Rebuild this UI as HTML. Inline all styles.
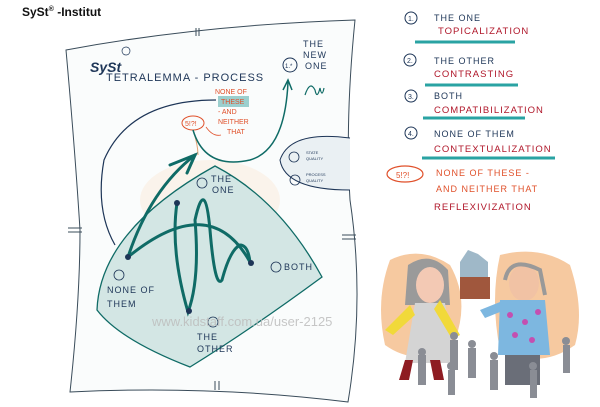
<!DOCTYPE html>
<html><head><meta charset="utf-8"><style>
html,body{margin:0;padding:0;background:#fff;width:600px;height:407px;overflow:hidden}
svg{display:block}
text{font-family:"Liberation Sans",sans-serif}
.n{fill:#1d3557;font-size:9px;letter-spacing:1px}
.r{fill:#b0172a;font-size:9.5px;letter-spacing:1px}
.o{fill:#e0502a;font-size:7px}
</style></head><body>
<svg width="600" height="407" viewBox="0 0 600 407">
<text x="22" y="16" font-size="12" font-weight="bold" fill="#111">SySt<tspan font-size="7" dy="-5">®</tspan><tspan dy="5"> -Institut</tspan></text>
<!-- paper -->
<path d="M66,50 Q200,25 355,20 Q345,120 350,200 Q365,300 348,402 Q210,385 70,392 Q80,300 80,230 Q75,150 66,50Z" fill="#fafcfc" stroke="#3a4c5a" stroke-width="1"/>
<ellipse cx="210" cy="200" rx="70" ry="40" fill="#f9f0e4" opacity=".7"/>
<path d="M196,28v8M199,28v8M68,228h14M68,232h14M342,235h14M342,239h14M215,381v9M219,381v9" stroke="#3a4c5a" stroke-width="1"/>
<!-- lens -->
<path d="M215,166 Q280,200 322,277 Q250,330 190,367 Q120,340 97,310 Q100,230 215,166Z" fill="#d3e6e4" stroke="#0f6b66" stroke-width="1.3"/>
<!-- title -->
<text x="90" y="72" font-size="14" font-weight="bold" fill="#1d3557" font-style="italic">SySt</text>
<circle cx="126" cy="51" r="4" fill="none" stroke="#1d3557" stroke-width=".7"/>
<text x="106" y="81" font-size="11" fill="#1d3557" letter-spacing="1">TETRALEMMA - PROCESS</text>
<!-- new one -->
<circle cx="290" cy="65" r="7" fill="none" stroke="#1d3557" stroke-width="1"/>
<text x="285" y="68" font-size="6" fill="#1d3557">1.*</text>
<text x="303" y="47" class="n" font-size="7">THE</text><text x="303" y="58" class="n" font-size="7">NEW</text><text x="305" y="69" class="n" font-size="7">ONE</text>
<path d="M305,95 q5,-15 10,-5 q2,10 5,-2 q2,10 4,0" stroke="#0f6b66" fill="none" stroke-width="1.2"/>
<!-- none of these -->
<rect x="218" y="96" width="31" height="11" fill="#9ccfce"/>
<text x="215" y="94" class="o">NONE OF</text><text x="221" y="104" class="o">THESE</text><text x="218" y="114" class="o">- AND</text><text x="218" y="124" class="o">NEITHER</text><text x="227" y="134" class="o">THAT</text>
<ellipse cx="193" cy="123" rx="11" ry="7" fill="none" stroke="#e0502a"/>
<text x="185" y="126" class="o">5!?!</text>
<path d="M221,135 q-8,2 -15,-8" stroke="#e0502a" fill="none" stroke-width=".8"/>
<path d="M193,130 q5,15 5,25" stroke="#e0a070" fill="none" stroke-width="1"/>
<!-- curves -->
<path d="M216,100 Q130,100 104,160 Q95,210 115,245" stroke="#1d3557" fill="none" stroke-width="1.2"/>
<path d="M193,130 Q205,170 250,160 Q285,150 288,82" stroke="#0f6b66" fill="none" stroke-width="1.5"/>
<path d="M283,90 l5,-10 l4,10" stroke="#0f6b66" fill="none" stroke-width="1.5"/>
<!-- quality oval -->
<path d="M350,138 Q290,130 280,160 Q285,190 350,190" fill="#eaf0f3" stroke="#1d3557" stroke-width="1"/>
<circle cx="294" cy="157" r="5" fill="none" stroke="#1d3557" stroke-width=".8"/><circle cx="295" cy="180" r="5" fill="none" stroke="#1d3557" stroke-width=".8"/>
<text x="306" y="154" font-size="4" fill="#1d3557">STATE</text><text x="306" y="160" font-size="4" fill="#1d3557">QUALITY</text>
<text x="306" y="176" font-size="4" fill="#1d3557">PROCESS</text><text x="306" y="182" font-size="4" fill="#1d3557">QUALITY</text>
<!-- process line -->
<g stroke="#0f6b66" stroke-width="3" fill="none" stroke-linecap="round">
<path d="M128,257 Q150,190 195,155"/>
<path d="M170,165 l25,-10 l-8,18"/>
<path d="M128,257 Q210,190 250,262"/>
<path d="M177,203 Q170,250 188,312 Q200,280 195,220 Q205,175 210,230 Q215,290 222,280 Q230,250 240,245 Q248,245 250,262"/>
</g>
<circle cx="128" cy="257" r="3" fill="#1d3557"/><circle cx="177" cy="203" r="3" fill="#1d3557"/><circle cx="251" cy="263" r="3" fill="#1d3557"/><circle cx="189" cy="311" r="3" fill="#1d3557"/>
<circle cx="202" cy="183" r="5" fill="none" stroke="#1d3557" stroke-width=".8"/>
<text x="211" y="182" class="n" font-size="7">THE</text><text x="212" y="193" class="n" font-size="7">ONE</text>
<circle cx="276" cy="267" r="5" fill="none" stroke="#1d3557" stroke-width=".8"/>
<text x="284" y="270" class="n" font-size="7">BOTH</text>
<circle cx="119" cy="275" r="5" fill="none" stroke="#1d3557" stroke-width=".8"/>
<text x="107" y="293" class="n" font-size="7">NONE OF</text><text x="107" y="307" class="n" font-size="7">THEM</text>
<circle cx="213" cy="322" r="5" fill="none" stroke="#1d3557" stroke-width=".8"/>
<text x="197" y="340" class="n" font-size="7">THE</text><text x="197" y="352" class="n" font-size="7">OTHER</text>
<!-- right list -->
<g>
<circle cx="411" cy="18" r="6" fill="none" stroke="#1d3557"/><text x="408" y="21" font-size="7" fill="#1d3557">1.</text>
<text x="434" y="21" class="n">THE ONE</text><text x="438" y="34" class="r" font-size="8">TOPICALIZATION</text>
<path d="M415,42H515" stroke="#2aa3a3" stroke-width="3"/>
<circle cx="410" cy="60" r="6" fill="none" stroke="#1d3557"/><text x="407" y="63" font-size="7" fill="#1d3557">2.</text>
<text x="434" y="64" class="n">THE OTHER</text><text x="434" y="77" class="r">CONTRASTING</text>
<path d="M425,85H518" stroke="#2aa3a3" stroke-width="3"/>
<circle cx="411" cy="96" r="6" fill="none" stroke="#1d3557"/><text x="408" y="99" font-size="7" fill="#1d3557">3.</text>
<text x="434" y="99" class="n">BOTH</text><text x="434" y="113" class="r" font-size="8.5">COMPATIBILIZATION</text>
<path d="M423,118H525" stroke="#2aa3a3" stroke-width="3"/>
<circle cx="411" cy="133" r="6" fill="none" stroke="#1d3557"/><text x="408" y="136" font-size="7" fill="#1d3557">4.</text>
<text x="434" y="137" class="n">NONE OF THEM</text><text x="434" y="152" class="r">CONTEXTUALIZATION</text>
<path d="M422,158H555" stroke="#2aa3a3" stroke-width="3"/>
<ellipse cx="405" cy="174" rx="18" ry="8" fill="none" stroke="#e0502a" stroke-width="1.2"/><text x="396" y="178" font-size="8" fill="#e0502a">5!?!</text>
<text x="436" y="176" class="n" style="fill:#e0502a">NONE OF THESE -</text>
<text x="436" y="192" class="n" style="fill:#e0502a">AND NEITHER THAT</text>
<text x="434" y="210" class="r">REFLEXIVIZATION</text>
</g>
<!-- cartoon -->
<path d="M390,260 Q420,245 450,265 Q470,300 455,340 Q420,370 385,345 Q375,300 390,260Z" fill="#f6c9a0"/>
<path d="M500,255 Q540,245 570,265 Q585,310 575,345 Q540,370 500,350 Q490,300 500,255Z" fill="#f6c9a0"/>
<path d="M460,262 l8,-12 l10,4 l10,8 v15 h-28Z" fill="#9fb8c8"/><rect x="460" y="277" width="30" height="22" fill="#a0573d"/>
<path d="M408,265 Q430,250 448,270 L450,305 L405,305Z" fill="#9a9a9a"/>
<ellipse cx="430" cy="285" rx="14" ry="18" fill="#f3c9b4"/>
<path d="M415,303 h30 l10,60 h-50Z" fill="#d4d4d4"/>
<path d="M385,330 l25,-25 l5,10 l-22,20Z M440,300 l20,35 l-8,4 l-18,-30Z" fill="#f1d93a"/>
<path d="M405,360 l-6,20 h10 l4,-20Z M430,360 l4,20 h10 l-4,-20Z" fill="#8e1c22"/>
<ellipse cx="524" cy="283" rx="15" ry="18" fill="#f1c2a4"/>
<path d="M505,280 q5,-25 35,-10 l5,25" fill="none" stroke="#999" stroke-width="4"/>
<path d="M500,300 h45 l5,55 h-52Z" fill="#7db7e0"/>
<path d="M480,310 l25,-10 v10 l-20,8Z" fill="#7db7e0"/>
<g fill="#c44fb0"><circle cx="510" cy="315" r="3"/><circle cx="525" cy="322" r="3"/><circle cx="538" cy="312" r="3"/><circle cx="515" cy="335" r="3"/><circle cx="532" cy="340" r="3"/></g>
<rect x="505" y="355" width="35" height="30" fill="#6a6e78"/>
<g fill="#8a8d95"><rect x="418" y="355" width="8" height="30"/><circle cx="422" cy="352" r="4"/><rect x="450" y="340" width="8" height="30"/><circle cx="454" cy="336" r="4"/><rect x="468" y="348" width="8" height="30"/><circle cx="472" cy="344" r="4"/><rect x="490" y="360" width="8" height="30"/><circle cx="494" cy="356" r="4"/><rect x="530" y="370" width="7" height="28"/><circle cx="533" cy="366" r="4"/><rect x="563" y="345" width="7" height="28"/><circle cx="566" cy="341" r="4"/><rect x="448" y="370" width="7" height="25"/><circle cx="451" cy="366" r="4"/></g>
<text x="152" y="326" font-size="13" fill="#bdbdbd" opacity=".85">www.kidstaff.com.ua/user-2125</text>
</svg>
</body></html>
